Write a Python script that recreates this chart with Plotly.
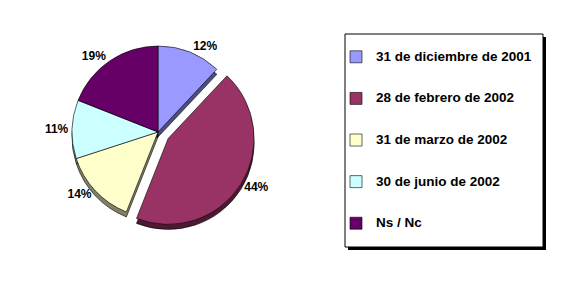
import plotly.graph_objects as go

labels = ["31 de diciembre de 2001", "28 de febrero de 2002", "31 de marzo de 2002",
          "30 de junio de 2002", "Ns / Nc"]
values = [12, 44, 14, 11, 19]
colors = ["#9999FF", "#993366", "#FFFFCC", "#CCFFFF", "#660066"]
side_colors = ["#4D4D80", "#4D1A33", "#808066", "#668080", "#330033"]
pulls = [0, 0.14, 0, 0, 0]

W, H = 563, 288


def px(x):
    return x / W


def py(y):
    return 1 - y / H


cx, cy, R = 158, 132, 98
dom_x = [px(cx - R), px(cx + R)]
dom_y = [py(cy + R), py(cy - R)]
depth = 5
dom_y_side = [py(cy + R + depth), py(cy - R + depth)]

legend_labels = ["&nbsp;<br><span style='font-size:13.5px'>" + l + "</span><br>&nbsp;" for l in labels]

fig = go.Figure()
# 3D side (depth) of the pie
fig.add_trace(go.Pie(
    labels=legend_labels, values=values, sort=False, direction="clockwise", rotation=0,
    pull=pulls, marker=dict(colors=side_colors, line=dict(color="#000000", width=0.6)),
    textinfo="none", showlegend=False, hoverinfo="skip",
    domain=dict(x=dom_x, y=dom_y_side),
))
fig.add_trace(go.Pie(
    labels=legend_labels, values=values, sort=False, direction="clockwise", rotation=0,
    pull=pulls, marker=dict(colors=colors, line=dict(color="#000000", width=0.6)),
    texttemplate="%{value}%", textposition="outside",
    textfont=dict(family="Arial", size=12, color="#000000", weight="bold"),
    hovertemplate="%{value}%<extra></extra>",
    domain=dict(x=dom_x, y=dom_y),
))

# legend box with shadow
bx0, by0, bx1, by1 = 345, 34, 543, 247
fig.add_shape(type="rect", xref="paper", yref="paper",
              x0=px(bx0 + 3), x1=px(bx1 + 3), y0=py(by1 + 3), y1=py(by0 + 3),
              fillcolor="#000000", line=dict(width=0), layer="below")
fig.add_shape(type="rect", xref="paper", yref="paper",
              x0=px(bx0), x1=px(bx1), y0=py(by1), y1=py(by0),
              fillcolor="#FFFFFF", line=dict(color="#000000", width=1), layer="below")

fig.update_layout(
    width=W, height=H,
    margin=dict(l=0, r=0, t=0, b=0),
    paper_bgcolor="#FFFFFF", plot_bgcolor="#FFFFFF",
    legend=dict(
        x=px(336), y=py(31), xanchor="left", yanchor="top",
        bgcolor="rgba(0,0,0,0)", borderwidth=0,
        font=dict(family="Arial", size=9.9, color="#000000", weight="bold"),
        traceorder="normal",
    ),
)

fig.write_html("out.html")
